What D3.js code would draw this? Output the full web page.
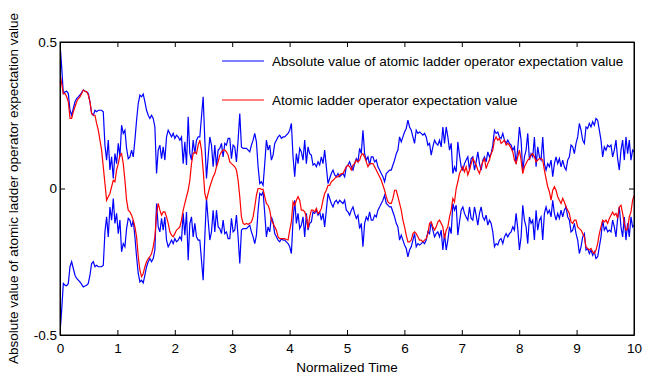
<!DOCTYPE html>
<html>
<head>
<meta charset="utf-8">
<script src="https://cdn.jsdelivr.net/npm/d3@7"></script>
<style>
  body { margin: 0; background: #fff; }
  svg { display: block; font-family: "Liberation Sans", Arial, sans-serif; }
</style>
</head>
<body>
<div id="chart"></div>
<script>
// samples, one every sampleStep of normalized time
const sampleStep = 0.029;

// |<sigma>| , drawn as +value and -value
const absValue = [
  0.495, 0.415, 0.324, 0.330, 0.332, 0.324, 0.267, 0.250, 0.273, 0.296,
  0.307, 0.313, 0.319, 0.327, 0.336, 0.333, 0.330, 0.324, 0.296, 0.256,
  0.250, 0.267, 0.262, 0.267, 0.267, 0.267, 0.262, 0.148, 0.097, 0.165,
  0.063, 0.108, 0.034, 0.119, 0.085, 0.154, 0.108, 0.216, 0.188, 0.199,
  0.137, 0.102, 0.108, 0.131, 0.108, 0.165, 0.233, 0.290, 0.319, 0.313,
  0.322, 0.296, 0.267, 0.250, 0.239, 0.250, 0.239, 0.210, 0.051, 0.131,
  0.148, 0.102, 0.142, 0.097, 0.176, 0.199, 0.188, 0.176, 0.188, 0.171,
  0.182, 0.176, 0.165, 0.176, 0.085, 0.159, 0.080, 0.245, 0.119, 0.097,
  0.165, 0.119, 0.165, 0.176, 0.176,
  0.245, 0.313, 0.165, 0.034, 0.108, 0.176, 0.148, 0.074, 0.148, 0.074,
  0.131, 0.137, 0.154, 0.108, 0.154, 0.148, 0.171, 0.171, 0.102, 0.148,
  0.142, 0.091, 0.165, 0.256, 0.142, 0.137, 0.137, 0.137, 0.131, 0.125,
  0.148, 0.165, 0.188, 0.159, 0.074, 0.017, 0.023, 0.011, 0.085, 0.165,
  0.131, 0.148, 0.097, 0.114, 0.154, 0.165, 0.176, 0.182, 0.171, 0.176,
  0.176, 0.182, 0.188, 0.199, 0.222, 0.108, 0.040, 0.119, 0.085, 0.137,
  0.125, 0.097, 0.165, 0.085, 0.142, 0.119, 0.114, 0.080, 0.085, 0.074,
  0.091, 0.080, 0.108, 0.085, 0.131, 0.074, 0.017, 0.034, 0.051, 0.063,
  0.046, 0.040, 0.051, 0.040, 0.046, 0.051, 0.040, 0.074, 0.080, 0.091,
  0.074, 0.063, 0.085, 0.102, 0.091, 0.137, 0.119, 0.199, 0.119, 0.097,
  0.108, 0.080, 0.108, 0.108, 0.091, 0.097, 0.074, 0.063, 0.051, 0.040,
  0.023, 0.051, 0.057, 0.063, 0.063, 0.080, 0.097, 0.119, 0.131, 0.176,
  0.159, 0.176, 0.193, 0.205, 0.233, 0.210, 0.199, 0.176, 0.154, 0.199,
  0.188, 0.193,
  0.188, 0.182, 0.188, 0.176, 0.148, 0.154, 0.114, 0.142, 0.165, 0.154,
  0.148, 0.165, 0.142, 0.210, 0.154, 0.210, 0.176, 0.131, 0.154, 0.051,
  0.074, 0.057, 0.159, 0.114, 0.074, 0.063, 0.085, 0.097, 0.108, 0.063,
  0.102, 0.108, 0.063, 0.091, 0.125, 0.085, 0.063, 0.097, 0.108, 0.091,
  0.125, 0.108, 0.119, 0.148, 0.199, 0.188, 0.193, 0.176, 0.171, 0.188,
  0.165, 0.154, 0.165, 0.154, 0.148, 0.131, 0.142, 0.085, 0.137, 0.210,
  0.165, 0.057, 0.108, 0.131, 0.188, 0.097, 0.119, 0.108, 0.176, 0.074,
  0.142, 0.108, 0.097, 0.176, 0.085, 0.063, 0.085, 0.074, 0.097, 0.040,
  0.085, 0.108, 0.085, 0.102, 0.074, 0.097, 0.074, 0.063, 0.097, 0.108,
  0.148, 0.142, 0.119, 0.154, 0.176, 0.222, 0.199, 0.165, 0.154, 0.210,
  0.205, 0.222, 0.210, 0.228, 0.216, 0.239, 0.233, 0.199, 0.165, 0.108,
  0.142, 0.131, 0.148, 0.142, 0.148, 0.108, 0.131, 0.165, 0.102, 0.063,
  0.131, 0.165, 0.097, 0.176, 0.119, 0.165, 0.097, 0.131, 0.125
];

// <sigma>
const ladderValue = [
  0.392, 0.358, 0.324, 0.324, 0.313, 0.296, 0.239, 0.239, 0.262, 0.279,
  0.296, 0.307, 0.313, 0.324, 0.336, 0.332, 0.330, 0.319, 0.296, 0.256,
  0.250, 0.250, 0.222, 0.199, 0.165, 0.131, 0.074, 0.017, -0.040, -0.028,
  -0.017, 0.006, 0.028, 0.023, 0.063, 0.085, 0.114, 0.119, 0.085, 0.028,
  -0.040, -0.074, -0.080, -0.091, -0.108, -0.131, -0.165, -0.233, -0.279, -0.301,
  -0.290, -0.267, -0.250, -0.239, -0.233, -0.222, -0.199, -0.165, -0.085, -0.051,
  -0.074, -0.091, -0.080, -0.080, -0.097, -0.119, -0.148, -0.159, -0.165, -0.154,
  -0.142, -0.137, -0.131, -0.108, -0.074, -0.051, -0.028, -0.006, 0.028, 0.085,
  0.119, 0.125, 0.119, 0.148, 0.165,
  0.131, 0.063, -0.017, -0.040, -0.017, 0.006, 0.023, 0.040, 0.051, 0.074,
  0.091, 0.114, 0.125, 0.131, 0.131, 0.125, 0.114, 0.091, 0.085, 0.080,
  0.074, 0.063, 0.028, -0.028, -0.097, -0.119, -0.123, -0.119, -0.122, -0.119,
  -0.114, -0.097, -0.063, -0.023, 0.000, 0.000, -0.003, -0.003, -0.028, -0.051,
  -0.057, -0.074, -0.108, -0.119, -0.131, -0.142, -0.165, -0.171, -0.171, -0.171,
  -0.171, -0.174, -0.176, -0.142, -0.114, -0.046, -0.057, -0.040, -0.028, -0.040,
  -0.074, -0.074, -0.080, -0.097, -0.137, -0.097, -0.074, -0.074, -0.080, -0.068,
  -0.085, -0.080, -0.068, -0.040, -0.017, -0.006, 0.011, 0.011, 0.023, 0.028,
  0.034, 0.040, 0.040, 0.046, 0.051, 0.051, 0.063, 0.074, 0.080, 0.074,
  0.063, 0.080, 0.085, 0.097, 0.091, 0.097, 0.114, 0.119, 0.108, 0.091,
  0.074, 0.085, 0.085, 0.085, 0.074, 0.063, 0.051, 0.040, 0.028, 0.011,
  -0.006, -0.028, -0.046, -0.051, -0.051, -0.034, -0.006, -0.006, -0.028, -0.051,
  -0.074, -0.108, -0.131, -0.159, -0.182, -0.182, -0.176, -0.154, -0.148, -0.154,
  -0.165, -0.176,
  -0.176, -0.182, -0.176, -0.171, -0.154, -0.119, -0.114, -0.131, -0.142, -0.131,
  -0.114, -0.108, -0.119, -0.131, -0.171, -0.142, -0.131, -0.097, -0.074, -0.034,
  -0.046, 0.000, 0.023, 0.051, 0.063, 0.074, 0.057, 0.074, 0.046, 0.063,
  0.085, 0.102, 0.091, 0.080, 0.063, 0.051, 0.074, 0.091, 0.102, 0.068,
  0.085, 0.097, 0.119, 0.131, 0.165, 0.176, 0.165, 0.171, 0.154, 0.159,
  0.165, 0.148, 0.154, 0.148, 0.137, 0.125, 0.097, 0.085, 0.108, 0.131,
  0.097, 0.051, 0.074, 0.085, 0.097, 0.102, 0.114, 0.119, 0.108, 0.091,
  0.097, 0.102, 0.102, 0.097, 0.063, 0.034, 0.006, -0.011, -0.040, -0.006,
  0.006, -0.006, -0.028, -0.040, -0.051, -0.034, -0.046, -0.063, -0.074, -0.085,
  -0.114, -0.119, -0.108, -0.108, -0.131, -0.137, -0.142, -0.154, -0.165, -0.199,
  -0.205, -0.210, -0.205, -0.216, -0.222, -0.210, -0.188, -0.154, -0.131, -0.108,
  -0.114, -0.108, -0.119, -0.102, -0.091, -0.080, -0.091, -0.085, -0.102, -0.063,
  -0.057, -0.085, -0.119, -0.142, -0.137, -0.097, -0.080, -0.040, -0.023
];

const xTicks = [0, 1, 2, 3, 4, 5, 6, 7, 8, 9, 10];
const yTicks = [-0.5, 0, 0.5];
const legendLabels = [
  "Absolute value of atomic ladder operator expectation value",
  "Atomic ladder operator expectation value"
];

const width = 650, height = 375;
const margin = { top: 42, right: 16, bottom: 40, left: 60 };
const plotW = width - margin.left - margin.right;
const plotH = height - margin.top - margin.bottom;
const fontSize = "13.5px";

const svg = d3.select("#chart").append("svg")
    .attr("width", width)
    .attr("height", height);

const x = d3.scaleLinear().domain([0, 10]).range([0, plotW]);
const y = d3.scaleLinear().domain([-0.5, 0.5]).range([plotH, 0]);

const g = svg.append("g")
    .attr("transform", `translate(${margin.left},${margin.top})`);

g.append("clipPath").attr("id", "plot-clip")
  .append("rect").attr("width", plotW).attr("height", plotH);

const t = i => i * sampleStep;

const upperLine = d3.line().x((d, i) => x(t(i))).y(d => y(d));
const lowerLine = d3.line().x((d, i) => x(t(i))).y(d => y(-d));

const lines = g.append("g").attr("clip-path", "url(#plot-clip)");

lines.append("path")
    .attr("d", upperLine(absValue))
    .attr("fill", "none")
    .attr("stroke", "#0000ff")
    .attr("stroke-width", 1.2);

lines.append("path")
    .attr("d", lowerLine(absValue))
    .attr("fill", "none")
    .attr("stroke", "#0000ff")
    .attr("stroke-width", 1.2);

lines.append("path")
    .attr("d", upperLine(ladderValue))
    .attr("fill", "none")
    .attr("stroke", "#ff0000")
    .attr("stroke-width", 1.2);

// axes with inward ticks on all four sides (matlab box)
const xAxis = g.append("g")
    .attr("transform", `translate(0,${plotH})`)
    .call(d3.axisBottom(x).tickValues(xTicks).tickSizeInner(-5).tickSizeOuter(0).tickPadding(8));
const xTop = g.append("g")
    .call(d3.axisTop(x).tickValues(xTicks).tickSizeInner(-5).tickSizeOuter(0).tickFormat(""));
const yAxis = g.append("g")
    .call(d3.axisLeft(y).tickValues(yTicks).tickSizeInner(-5).tickSizeOuter(0).tickPadding(3)
      .tickFormat(d => d === 0 ? "0" : d));
const yRight = g.append("g")
    .attr("transform", `translate(${plotW},0)`)
    .call(d3.axisRight(y).tickValues(yTicks).tickSizeInner(-5).tickSizeOuter(0).tickFormat(""));

[xAxis, xTop, yAxis, yRight].forEach(a => {
  a.selectAll("path, line").attr("stroke", "#000");
  a.selectAll("text")
    .attr("fill", "#000")
    .style("font-size", fontSize)
    .style("font-family", '"Liberation Sans", Arial, sans-serif');
});

g.append("rect")
    .attr("width", plotW)
    .attr("height", plotH)
    .attr("fill", "none")
    .attr("stroke", "#000");

// axis titles
svg.append("text")
    .attr("x", margin.left + plotW / 2)
    .attr("y", 372)
    .attr("text-anchor", "middle")
    .style("font-size", fontSize)
    .text("Normalized Time");

svg.append("text")
    .attr("transform", `translate(18,${margin.top + plotH / 2}) rotate(-90)`)
    .attr("text-anchor", "middle")
    .style("font-size", fontSize)
    .text("Absolute value of atomic ladder operator expectation value");

// legend
const legendColors = ["#0000ff", "#ff0000"];
const legendY = [61, 100];
legendLabels.forEach((label, i) => {
  svg.append("line")
      .attr("x1", 222).attr("x2", 264)
      .attr("y1", legendY[i]).attr("y2", legendY[i])
      .attr("stroke", legendColors[i]);
  svg.append("text")
      .attr("x", 272)
      .attr("y", legendY[i])
      .attr("dy", "0.35em")
      .style("font-size", fontSize)
      .text(label);
});
</script>
</body>
</html>
